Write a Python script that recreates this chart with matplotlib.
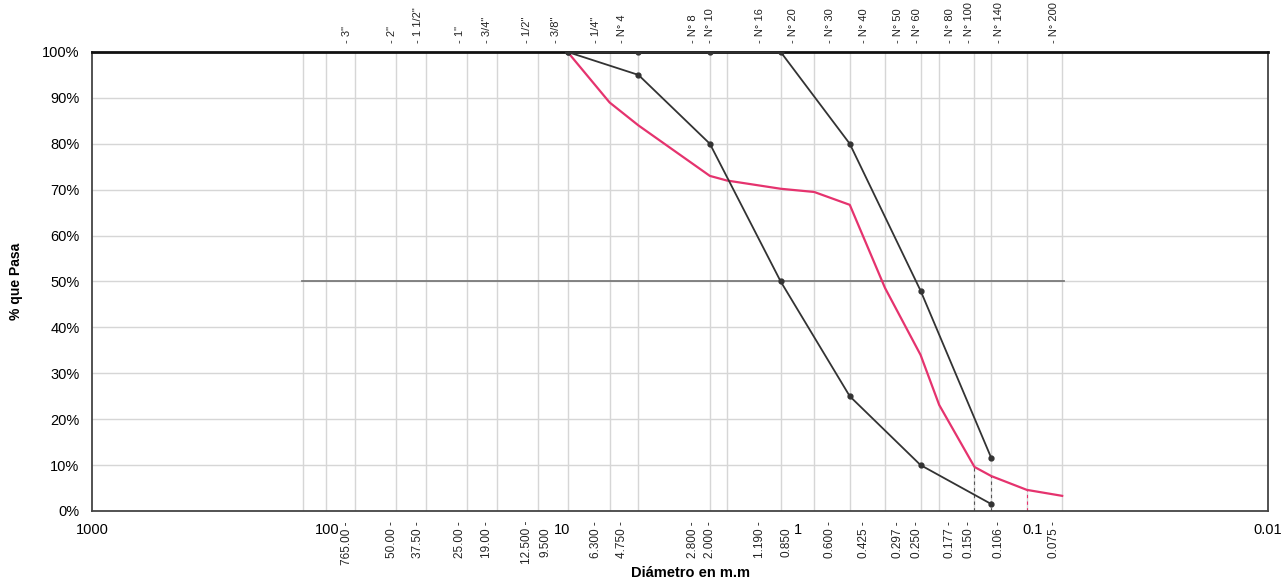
import matplotlib.pyplot as plt
import numpy as np

plt.rcParams['font.family'] = ['Liberation Sans', 'DejaVu Sans']

# tamices (mm) donde están las líneas verticales de la grilla
sieve_mm = [127, 101, 76.2, 50.8, 38.1, 25.4, 19.05, 12.7, 9.5, 6.3, 4.75, 2.36, 2.0,
            1.18, 0.85, 0.6, 0.425, 0.3, 0.25, 0.177, 0.15, 0.106, 0.075]

# etiquetas de la parte de arriba y de abajo
top_names = ['3"', '2"', '1 1/2"', '1"', '3/4"', '1/2"', '3/8"', '1/4"', 'N° 4', 'N° 8', 'N° 10',
             'N° 16', 'N° 20', 'N° 30', 'N° 40', 'N° 50', 'N° 60', 'N° 80', 'N° 100', 'N° 140', 'N° 200']
bottom_names = ['765.00', '50.00', '37.50', '25.00', '19.00', '12.500', '9.500', '6.300', '4.750',
                '2.800', '2.000', '1.190', '0.850', '0.600', '0.425', '0.297', '0.250', '0.177',
                '0.150', '0.106', '0.075']
label_pos = [82.4, 53, 41.1, 27.2, 21, 14.1, 11.8, 7.2, 5.6, 2.79, 2.36, 1.45, 1.12, 0.725,
             0.52, 0.376, 0.31, 0.224, 0.186, 0.139, 0.081]
top_pos = [82.4, 53, 41.1, 27.2, 21, 14.1, 10.6, 7.2, 5.6, 2.79, 2.36, 1.45, 1.05, 0.725,
           0.52, 0.376, 0.31, 0.224, 0.186, 0.139, 0.081]

# curvas
lim_inf_x = [9.5, 4.75, 2.36, 1.18, 0.6, 0.3, 0.15]
lim_inf_y = [100, 95, 80, 50, 25, 10, 1.5]
lim_sup_x = [9.5, 4.75, 2.36, 1.18, 0.6, 0.3, 0.15]
lim_sup_y = [100, 100, 100, 100, 80, 48, 11.5]
muestra_x = [9.5, 6.3, 4.75, 2.36, 2.0, 1.18, 0.85, 0.6, 0.425, 0.3, 0.25, 0.177, 0.15, 0.106, 0.075]
muestra_y = [100, 89, 84, 73, 72, 70.2, 69.5, 66.7, 48.6, 34, 23.1, 9.6, 7.6, 4.6, 3.3]

fig = plt.figure(figsize=(12.83, 5.82), dpi=100)
ax = fig.add_axes([0.0717, 0.122, 0.9166, 0.7887])

ax.set_xscale('log')
ax.set_xlim(1000, 0.01)
ax.set_ylim(0, 100)

# grilla
for v in sieve_mm:
    ax.axvline(v, color='#d6d6d6', lw=1, zorder=0)
for p in range(10, 100, 10):
    ax.axhline(p, color='#d6d6d6', lw=1, zorder=0)
ax.plot([128, 0.0736], [50, 50], color='#7a7a7a', lw=1.3, zorder=1)

# líneas punteadas bajo la muestra
for v, c in [(0.177, '#555555'), (0.15, '#555555'), (0.106, '#E5336E')]:
    yv = muestra_y[muestra_x.index(v)]
    ax.plot([v, v], [0, yv], color=c, lw=0.8, ls=(0, (3, 3)), zorder=1)

ax.plot(lim_inf_x, lim_inf_y, color='#333333', lw=1.3, marker='o', ms=3.5, zorder=3)
ax.plot(lim_sup_x, lim_sup_y, color='#333333', lw=1.3, marker='o', ms=3.5, zorder=3)
ax.plot(muestra_x, muestra_y, color='#E5336E', lw=1.6, zorder=2)

for s in ['left', 'bottom', 'right']:
    ax.spines[s].set_color('#444444')
    ax.spines[s].set_linewidth(1.3)
ax.spines['top'].set_color('#111111')
ax.spines['top'].set_linewidth(2)

ax.set_yticks(np.arange(0, 101, 10))
ax.set_yticklabels([f'{p}%' for p in range(0, 101, 10)], fontsize=10.5)
ax.tick_params(axis='y', length=0, pad=9)
ax.set_ylabel('% que Pasa', fontsize=10, fontweight='bold', labelpad=14)

ax.set_xticks([1000, 100, 10, 1, 0.1, 0.01])
ax.set_xticklabels(['1000', '100', '10', '1', '0.1', '0.01'], fontsize=10.5)
ax.minorticks_off()
ax.tick_params(axis='x', length=0, pad=9)

for pos, name in zip(top_pos, top_names):
    ax.text(pos, 102, '- ' + name, rotation=90, ha='center', va='bottom',
            fontsize=8, color='#222222', clip_on=False)
for pos, name in zip(label_pos, bottom_names):
    txt = name if name in ('9.500', '0.850') else name + ' -'
    ax.text(pos, -2.2 if txt.endswith('-') else -3.6, txt, rotation=90, ha='center', va='top',
            fontsize=8.5, color='#222222', clip_on=False)

fig.text(0.538, 0.003, 'Diámetro en m.m', ha='center', va='bottom', fontsize=10.5, fontweight='bold')

fig.savefig('out.png', dpi=100, facecolor='white')
